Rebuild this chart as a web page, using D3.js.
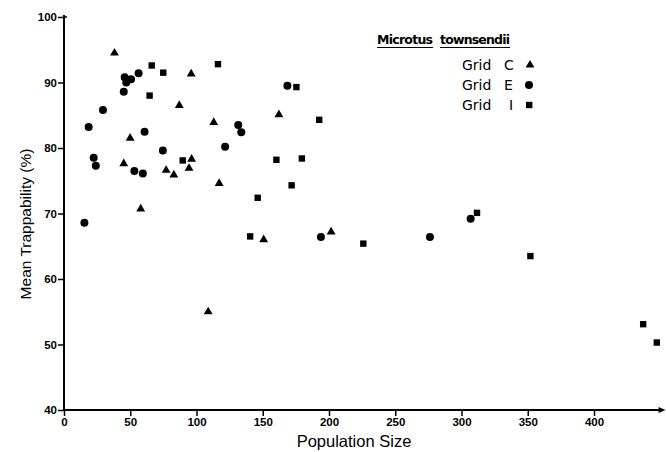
<!DOCTYPE html>
<html><head><meta charset="utf-8">
<script src="https://cdn.jsdelivr.net/npm/d3@7"></script>
<style>body{margin:0;background:#fff}svg{display:block}</style>
</head><body>
<svg id="c" width="666" height="452"></svg>
<script>
// Grid C (triangles)
const gridC = [[38.1,94.5],[49.9,81.5],[45.1,77.6],[57.9,70.7],[77.1,76.6],[82.9,75.9],[87.0,86.5],[96.0,91.3],[96.3,78.3],[94.4,76.9],[113.0,83.9],[117.1,74.6],[108.8,55.0],[150.7,66.0],[162.2,85.1],[201.6,67.2]];
// Grid E (circles)
const gridE = [[15.4,68.6],[18.6,83.2],[22.4,78.5],[24.0,77.3],[29.4,85.8],[45.1,88.6],[45.8,90.8],[47.0,90.0],[50.6,90.5],[56.3,91.4],[53.1,76.5],[59.5,76.1],[60.8,82.5],[74.6,79.6],[121.6,80.2],[131.5,83.5],[133.8,82.4],[168.6,89.5],[193.9,66.4],[276.2,66.4],[306.9,69.2]];
// Grid I (squares)
const gridI = [[66.2,92.6],[74.9,91.5],[64.6,88.0],[89.6,78.1],[116.2,92.8],[140.5,66.5],[146.2,72.4],[160.3,78.2],[175.4,89.3],[171.8,74.3],[179.5,78.4],[192.6,84.3],[225.9,65.4],[311.7,70.1],[352.0,63.5],[437.1,53.1],[447.4,50.3]];
const xTicks = [0,50,100,150,200,250,300,350,400];
const yTicks = [40,50,60,70,80,90,100];
const legendLabels = [["Grid","C"],["Grid","E"],["Grid","I"]];

const svg = d3.select("#c");
const x = d3.scaleLinear().domain([0,400]).range([64,594]);
const y = d3.scaleLinear().domain([40,100]).range([410,17]);

// axes
const gx = svg.append("g").attr("transform",`translate(0,${y(40)})`)
  .call(d3.axisBottom(x).tickValues(xTicks).tickSize(6).tickPadding(2));
gx.select(".domain").remove();
const gy = svg.append("g").attr("transform",`translate(${x(0)},0)`)
  .call(d3.axisLeft(y).tickValues(yTicks).tickSize(6).tickPadding(1));
gy.select(".domain").remove();
svg.selectAll(".tick line").attr("stroke","#000").attr("stroke-width",1.5);
svg.selectAll(".tick text").attr("font-family","Liberation Sans, Arial, sans-serif")
  .attr("font-weight","bold").attr("font-size",11.5).attr("fill","#000");
// axis lines
svg.append("line").attr("x1",x(0)).attr("x2",x(452)).attr("y1",y(40)).attr("y2",y(40))
  .attr("stroke","#000").attr("stroke-width",2);
svg.append("path").attr("d",`M${x(454)},${y(40)} l-7,-3 l0,6 z`).attr("fill","#000");
svg.append("line").attr("x1",x(0)).attr("x2",x(0)).attr("y1",y(100)-2).attr("y2",y(40))
  .attr("stroke","#000").attr("stroke-width",2);
svg.append("line").attr("x1",x(0)).attr("x2",x(0)+3).attr("y1",y(100)).attr("y2",y(100))
  .attr("stroke","#000").attr("stroke-width",1.5);

// axis titles
svg.append("text").attr("x",354).attr("y",447).attr("text-anchor","middle")
  .attr("font-family","Liberation Sans, Arial, sans-serif").attr("font-size",16.5).text("Population Size");
svg.append("text").attr("transform","translate(31,224) rotate(-90)").attr("text-anchor","middle")
  .attr("font-family","Liberation Sans, Arial, sans-serif").attr("font-size",15.5).text("Mean Trappability (%)");

const tri = d3.symbol().type(d3.symbolTriangle).size(34);
svg.append("g").selectAll("path").data(gridC).join("path")
  .attr("d",tri).attr("transform",d=>`translate(${x(d[0])},${y(d[1])})`).attr("fill","#000");
svg.append("g").selectAll("circle").data(gridE).join("circle")
  .attr("cx",d=>x(d[0])).attr("cy",d=>y(d[1])).attr("r",4).attr("fill","#000");
svg.append("g").selectAll("rect").data(gridI).join("rect")
  .attr("x",d=>x(d[0])-3.2).attr("y",d=>y(d[1])-3.2).attr("width",6.4).attr("height",6.4).attr("fill","#000");

// legend
const lf = "DejaVu Sans, sans-serif";
svg.append("text").attr("x",377).attr("y",44).attr("font-family",lf).attr("font-size",12.5)
  .attr("font-weight","bold").attr("textLength",56).text("Microtus");
svg.append("text").attr("x",440).attr("y",44).attr("font-family",lf).attr("font-size",12.5)
  .attr("font-weight","bold").attr("textLength",70).text("townsendii");
svg.append("line").attr("x1",377).attr("x2",433).attr("y1",47.5).attr("y2",47.5).attr("stroke","#000").attr("stroke-width",1.2);
svg.append("line").attr("x1",440).attr("x2",510).attr("y1",47.5).attr("y2",47.5).attr("stroke","#000").attr("stroke-width",1.2);
const ly = [65,85,105];
legendLabels.forEach((l,i)=>{
  svg.append("text").attr("x",462).attr("y",ly[i]+5).attr("font-family",lf).attr("font-size",14).text(l[0]);
  svg.append("text").attr("x",l[1]==="I"?509:504).attr("y",ly[i]+5).attr("font-family",lf).attr("font-size",14).text(l[1]);
});
svg.append("path").attr("d",tri).attr("transform",`translate(530,${ly[0]})`).attr("fill","#000");
svg.append("circle").attr("cx",529).attr("cy",ly[1]).attr("r",4).attr("fill","#000");
svg.append("rect").attr("x",526).attr("y",ly[2]-3.2).attr("width",6.4).attr("height",6.4).attr("fill","#000");
</script>
</body></html>
